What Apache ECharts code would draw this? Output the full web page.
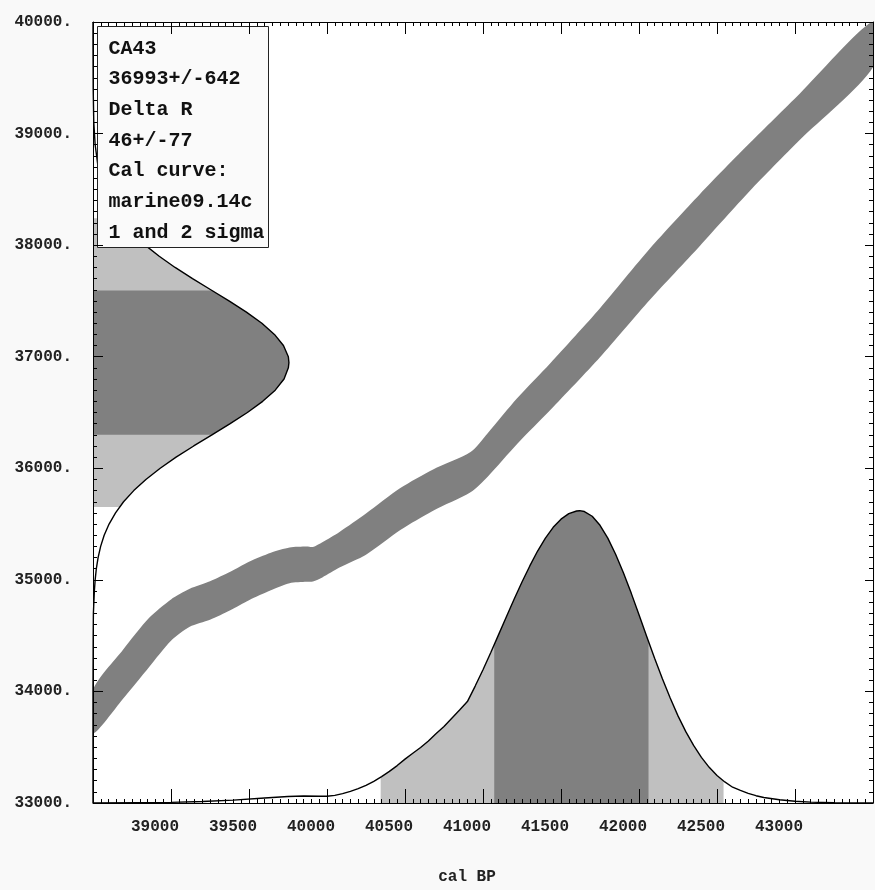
<!DOCTYPE html>
<html>
<head>
<meta charset="utf-8">
<script src="https://cdn.jsdelivr.net/npm/echarts/dist/echarts.min.js"></script>
<style>
  html, body { margin: 0; padding: 0; background: #f9f9f9; }
  #chart { width: 875px; height: 890px; }
</style>
</head>
<body>
<div id="chart"></div>
<script>
// Calibration curve (marine09): calendar age, radiocarbon age and 2-sigma half-width
const calBP   = [38500, 38690, 38860, 39000, 39120, 39250, 39380, 39500, 39640, 39760, 39870, 39910, 39970, 40080, 40250, 40470, 40680, 40920, 41030, 41220, 41430, 41750, 42070, 42390, 42710, 43030, 43500];
const c14Mean = [33820, 34150, 34440, 34640, 34750, 34815, 34900, 34990, 35075, 35130, 35140, 35140, 35180, 35270, 35410, 35635, 35805, 35965, 36120, 36425, 36730, 37215, 37740, 38225, 38700, 39150, 39800];
const c14Err  = [195, 220, 220, 185, 170, 172, 172, 172, 168, 160, 158, 155, 158, 160, 185, 188, 185, 180, 195, 205, 210, 220, 230, 232, 215, 208, 205];

// Calibrated age probability (relative to its peak) along the cal BP axis
const probBP  = [38500, 38800, 39000, 39200, 39400, 39600, 39750, 39850, 39950, 40000, 40050, 40100, 40150, 40200, 40250, 40300, 40350, 40400, 40450, 40500, 40550, 40600, 40650, 40700, 40750, 40800, 40850, 40900, 40950,
                 41000, 41050, 41100, 41150, 41200, 41250, 41300, 41350, 41400, 41450, 41500, 41550, 41600, 41620, 41650, 41700, 41750, 41800, 41850, 41900, 41950, 42000,
                 42050, 42100, 42150, 42200, 42250, 42300, 42350, 42400, 42450, 42500, 42550, 42600, 42650, 42700, 42750, 42800, 42900, 43000, 43100, 43250, 43500];
const probRel = [0, 0.001, 0.002, 0.005, 0.010, 0.017, 0.022, 0.024, 0.023, 0.023, 0.026, 0.032, 0.040, 0.049, 0.060, 0.074, 0.090, 0.108, 0.128, 0.150, 0.170, 0.190, 0.212, 0.238, 0.262, 0.290, 0.318, 0.347, 0.400,
                 0.456, 0.515, 0.576, 0.637, 0.698, 0.756, 0.811, 0.862, 0.906, 0.943, 0.971, 0.990, 0.999, 1.0, 0.997, 0.981, 0.950, 0.906, 0.851, 0.788, 0.718, 0.644,
                 0.569, 0.495, 0.425, 0.359, 0.298, 0.244, 0.197, 0.156, 0.122, 0.094, 0.072, 0.054, 0.043, 0.033, 0.025, 0.019, 0.011, 0.006, 0.003, 0.001, 0];

// Radiocarbon age distribution (relative to its peak) along the 14C axis
const ageC14 = [33000, 34000, 34500, 34700, 34900, 35000, 35100, 35200, 35300, 35400, 35500, 35600, 35700, 35800, 35900, 36000, 36100, 36200, 36300, 36400, 36500, 36600, 36700, 36800, 36900, 36947,
                37000, 37100, 37200, 37300, 37400, 37500, 37600, 37700, 37800, 37900, 38000, 38100, 38200, 38300, 38400, 38500, 38700, 38900, 39100, 39400, 39800, 40000];
const ageRel = [0, 0, 0.001, 0.002, 0.007, 0.011, 0.017, 0.026, 0.039, 0.057, 0.082, 0.115, 0.156, 0.208, 0.270, 0.343, 0.424, 0.514, 0.607, 0.700, 0.788, 0.866, 0.930, 0.975, 0.997, 1.0,
                0.997, 0.972, 0.926, 0.862, 0.783, 0.694, 0.601, 0.508, 0.419, 0.338, 0.266, 0.204, 0.153, 0.112, 0.080, 0.056, 0.026, 0.011, 0.004, 0.001, 0, 0];

// 1 and 2 sigma ranges
const calRange1 = [41072, 42061];
const calRange2 = [40344, 42542];
const c14Range1 = [36300, 37594];
const c14Range2 = [35654, 38240];

// Text block
const infoLines = ['CA43', '36993+/-642', 'Delta R', '46+/-77', 'Cal curve:', 'marine09.14c', '1 and 2 sigma'];

const X_MIN = 38500, X_MAX = 43500, X_STEP = 500;
const Y_MIN = 33000, Y_MAX = 40000, Y_STEP = 1000;
const PROB_HEIGHT = 2620;  // drawn height of the calendar density peak, in 14C years
const AGE_WIDTH = 1256;    // drawn width of the 14C density peak, in cal years

const DARK = '#808080';
const LIGHT = '#c0c0c0';

function interp(ts, ps, t) {
  for (let i = 1; i < ts.length; i++) {
    if (t <= ts[i]) {
      const f = (t - ts[i - 1]) / (ts[i] - ts[i - 1]);
      return ps[i - 1] + f * (ps[i] - ps[i - 1]);
    }
  }
  return ps[ps.length - 1];
}

// Outline of the part of a density between lo and hi, as [t, p] pairs
function region(ts, ps, lo, hi) {
  const out = [[lo, 0], [lo, interp(ts, ps, lo)]];
  ts.forEach((t, i) => { if (t > lo && t < hi) out.push([t, ps[i]]); });
  out.push([hi, interp(ts, ps, hi)], [hi, 0]);
  return out;
}

const calToXY = ([t, p]) => [t, Y_MIN + p * PROB_HEIGHT];
const c14ToXY = ([t, p]) => [X_MIN + p * AGE_WIDTH, t];

function polygonSeries(points, color, z, smooth) {
  return {
    type: 'custom',
    coordinateSystem: 'cartesian2d',
    clip: true,
    silent: true,
    z: z,
    data: [[X_MIN, Y_MIN]],
    renderItem: (params, api) => ({
      type: 'polygon',
      shape: { points: points.map(p => api.coord(p)), smooth: smooth || 0 },
      style: { fill: color }
    })
  };
}

const bandPoints = calBP.map((x, i) => [x, c14Mean[i] + c14Err[i]])
  .concat(calBP.map((x, i) => [x, c14Mean[i] - c14Err[i]]).reverse());

const axisFont = { fontFamily: 'Liberation Mono', fontSize: 16, fontWeight: 'bold', color: '#222' };
const line = { lineStyle: { color: '#000', width: 1 } };

function xAxisDef(pos, withLabels) {
  return {
    type: 'value', position: pos, min: X_MIN, max: X_MAX, interval: X_STEP, z: 10,
    axisLine: { show: true, onZero: false, ...line },
    axisTick: { show: true, inside: true, length: withLabels ? 14 : 12, ...line },
    minorTick: { show: true, splitNumber: 10, length: 4, ...line },
    splitLine: { show: false }, minorSplitLine: { show: false },
    axisLabel: withLabels ? {
      show: true, showMinLabel: false, showMaxLabel: false, margin: 16,
      padding: [0, 32, 0, 0], formatter: v => String(v), ...axisFont
    } : { show: false },
    name: withLabels ? 'cal BP' : '', nameLocation: 'middle', nameGap: 66,
    nameTextStyle: { ...axisFont, padding: [0, 32, 0, 0] }
  };
}

function yAxisDef(pos, withLabels) {
  return {
    type: 'value', position: pos, min: Y_MIN, max: Y_MAX, interval: Y_STEP, z: 10,
    axisLine: { show: true, onZero: false, ...line },
    axisTick: { show: true, inside: true, length: withLabels ? 10 : 8, ...line },
    minorTick: { show: true, splitNumber: 10, length: 4, ...line },
    splitLine: { show: false }, minorSplitLine: { show: false },
    axisLabel: withLabels ? {
      show: true, margin: 21, padding: [0, 0, 10, 0],
      formatter: v => v + '.', ...axisFont
    } : { show: false }
  };
}

const chart = echarts.init(document.getElementById('chart'), null, { renderer: 'canvas' });
chart.setOption({
  animation: false,
  backgroundColor: '#f9f9f9',
  grid: {
    left: 93, top: 22, right: 2, bottom: 87,
    show: true, backgroundColor: '#ffffff', borderWidth: 0,
    containLabel: false, outerBoundsMode: 'none'
  },
  xAxis: [xAxisDef('bottom', true), xAxisDef('top', false)],
  yAxis: [yAxisDef('left', true), yAxisDef('right', false)],
  series: [
    // calibration curve band
    polygonSeries(bandPoints, DARK, 1, 0.25),
    // calendar age density: 2 sigma then 1 sigma shading
    polygonSeries(region(probBP, probRel, calRange2[0], calRange2[1]).map(calToXY), LIGHT, 2),
    polygonSeries(region(probBP, probRel, calRange1[0], calRange1[1]).map(calToXY), DARK, 2),
    // radiocarbon age density: 2 sigma then 1 sigma shading
    polygonSeries(region(ageC14, ageRel, c14Range2[0], c14Range2[1]).map(c14ToXY), LIGHT, 2),
    polygonSeries(region(ageC14, ageRel, c14Range1[0], c14Range1[1]).map(c14ToXY), DARK, 2),
    {
      type: 'line', z: 3, silent: true, showSymbol: false, symbol: 'none',
      data: probBP.map((x, i) => calToXY([x, probRel[i]])),
      lineStyle: { color: '#000', width: 1.4 }
    },
    {
      type: 'line', z: 3, silent: true, showSymbol: false, symbol: 'none',
      data: ageC14.map((y, i) => c14ToXY([y, ageRel[i]])),
      lineStyle: { color: '#000', width: 1.4 }
    }
  ],
  graphic: [{
    type: 'group', left: 97, top: 26, z: 6,
    children: [
      { type: 'rect', z: 6, shape: { x: 0, y: 0, width: 171, height: 221 },
        style: { fill: '#fafafa', stroke: '#222', lineWidth: 1 } }
    ].concat(infoLines.map((s, i) => ({
      type: 'text', z: 7, x: 11, y: 22 + i * 30.7,
      style: { text: s, font: 'bold 20px "Liberation Mono"', fill: '#111', verticalAlign: 'middle' }
    })))
  }]
});
</script>
</body>
</html>
